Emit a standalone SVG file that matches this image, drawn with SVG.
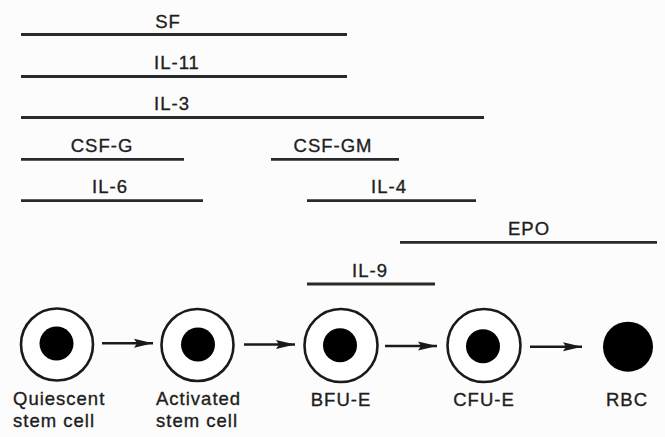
<svg xmlns="http://www.w3.org/2000/svg" width="665" height="437" viewBox="0 0 665 437">
<style>
text{font-family:"Liberation Sans",Arial,sans-serif;font-size:18.5px;fill:#1e1e1e;stroke:#1e1e1e;stroke-width:0.35;letter-spacing:1px}
.c{text-anchor:middle}
.bar{stroke:#2a2a2a;stroke-width:2.8;fill:none}
.outer{fill:#fff;stroke:#1a1a1a;stroke-width:2.6}
.core{fill:#000}
.conn{stroke:#1a1a1a;stroke-width:2.6;fill:none}
</style>
<defs>
<marker id="ah" markerUnits="userSpaceOnUse" markerWidth="20" markerHeight="12" refX="19" refY="6" orient="auto">
<path d="M0,1.5 L19,6 L0,10.5 L3,6 Z" fill="#1a1a1a"/>
</marker>
</defs>
<rect width="665" height="437" fill="#fcfcfc"/>
<g id="sf"><line class="bar" x1="21" y1="34.5" x2="347" y2="34.5"/><text class="c" x="168" y="28">SF</text></g>
<g id="il11"><line class="bar" x1="21" y1="76.5" x2="347" y2="76.5"/><text class="c" x="177" y="69">IL-11</text></g>
<g id="il3"><line class="bar" x1="21" y1="117.5" x2="484" y2="117.5"/><text class="c" x="172" y="110">IL-3</text></g>
<g id="csfg"><line class="bar" x1="21" y1="159.3" x2="184" y2="159.3"/><text class="c" x="102" y="152">CSF-G</text></g>
<g id="il6"><line class="bar" x1="21" y1="200.7" x2="203" y2="200.7"/><text class="c" x="110" y="193">IL-6</text></g>
<g id="csfgm"><line class="bar" x1="271" y1="159.3" x2="399" y2="159.3"/><text class="c" x="333" y="152">CSF-GM</text></g>
<g id="il4"><line class="bar" x1="307" y1="200.7" x2="476" y2="200.7"/><text class="c" x="389" y="193">IL-4</text></g>
<g id="epo"><line class="bar" x1="400" y1="242.3" x2="657" y2="242.3"/><text class="c" x="529" y="235">EPO</text></g>
<g id="il9"><line class="bar" x1="307" y1="284" x2="435" y2="284"/><text class="c" x="370" y="277">IL-9</text></g>
<g id="quiescent"><circle class="outer" cx="57" cy="344.5" r="36"/><circle class="core" cx="56.5" cy="343.5" r="17"/><text x="13" y="405">Quiescent</text><text x="13" y="427">stem cell</text></g>
<g id="activated"><circle class="outer" cx="197.5" cy="345" r="36"/><circle class="core" cx="198" cy="344.5" r="17"/><text x="156" y="405">Activated</text><text x="156" y="427">stem cell</text></g>
<g id="bfue"><circle class="outer" cx="341" cy="345.5" r="36.5"/><circle class="core" cx="340" cy="345.3" r="17"/><text class="c" x="341" y="406">BFU-E</text></g>
<g id="cfue"><circle class="outer" cx="484" cy="345.5" r="36.5"/><circle class="core" cx="483" cy="346.3" r="17"/><text class="c" x="484" y="406">CFU-E</text></g>
<g id="rbc"><circle class="core" cx="628" cy="346.7" r="25"/><text class="c" x="627" y="406">RBC</text></g>
<g id="connectors">
<line class="conn" x1="102" y1="343.3" x2="153" y2="343.3" marker-end="url(#ah)"/>
<line class="conn" x1="244" y1="344.5" x2="295" y2="344.5" marker-end="url(#ah)"/>
<line class="conn" x1="385" y1="346" x2="437" y2="346" marker-end="url(#ah)"/>
<line class="conn" x1="530" y1="346.7" x2="582" y2="346.7" marker-end="url(#ah)"/>
</g>
</svg>
